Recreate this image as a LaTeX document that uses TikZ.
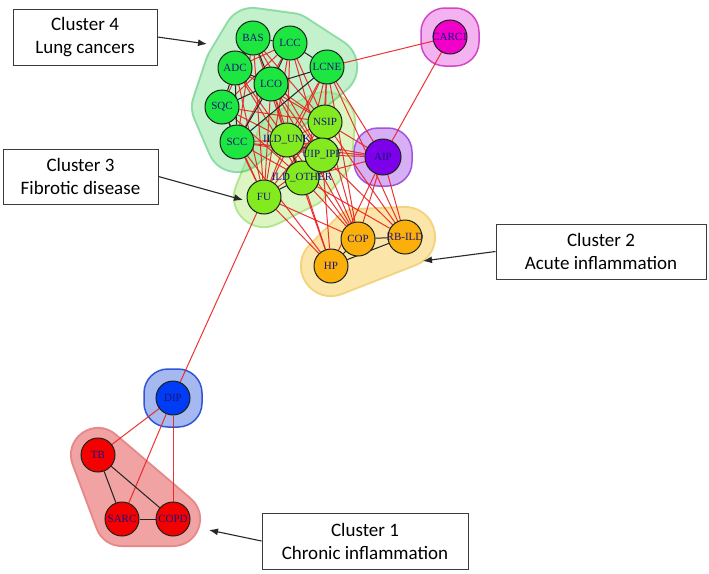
\documentclass[tikz,border=0pt]{standalone}
\usepackage{fontspec}
\setmainfont{Carlito}
\newfontfamily\labfont{Liberation Serif}
\usetikzlibrary{arrows.meta}
\pgfdeclarelayer{paper}
\pgfdeclarelayer{hulls}
\pgfdeclarelayer{edges}
\pgfsetlayers{paper,hulls,edges,main}
\definecolor{cNodeEdge}{RGB}{25,35,25}
\definecolor{cLab}{RGB}{25,20,125}
\definecolor{cRed}{RGB}{235,30,30}
\definecolor{cDark}{RGB}{35,35,35}
\definecolor{cBox}{RGB}{60,60,60}
\definecolor{cArrow}{RGB}{40,40,40}
% node fills
\definecolor{nG4}{RGB}{30,230,65}
\definecolor{nG3}{RGB}{130,234,30}
\definecolor{nOr}{RGB}{250,175,10}
\definecolor{nPu}{RGB}{125,0,235}
\definecolor{nMa}{RGB}{240,0,200}
\definecolor{nBl}{RGB}{0,60,245}
\definecolor{nRe}{RGB}{245,0,0}
% hull colours (before group opacity 0.5)
\definecolor{h4b}{RGB}{30,185,80}
\definecolor{h4f}{RGB}{135,229,155}
\definecolor{h3b}{RGB}{105,205,35}
\definecolor{h3f}{RGB}{189,237,135}
\definecolor{h2b}{RGB}{230,170,0}
\definecolor{h2f}{RGB}{249,205,85}
\definecolor{h1b}{RGB}{205,20,20}
\definecolor{h1f}{RGB}{229,70,70}
% single hulls (opaque)
\definecolor{sPuB}{RGB}{160,85,225}
\definecolor{sPuF}{RGB}{215,175,245}
\definecolor{sMaB}{RGB}{210,70,200}
\definecolor{sMaF}{RGB}{245,178,240}
\definecolor{sBlB}{RGB}{50,85,215}
\definecolor{sBlF}{RGB}{165,185,240}
\newcommand\mkhull[5]{%
  \begin{scope}[transparency group, opacity=0.5]
    \path[draw=#1, fill=#1, line width=#3, line join=round] #5;
    \path[draw=#2, fill=#2, line width=#4, line join=round] #5;
  \end{scope}}
\tikzset{
  vtx/.style={circle, draw=cNodeEdge, line width=1pt, minimum size=34pt, inner sep=0pt,
    font=\labfont\fontsize{11}{12}\selectfont, text=cLab},
  redline/.style={draw=cRed, line width=1pt, draw opacity=0.9},
  darkline/.style={draw=cDark, line width=1pt},
  lbox/.style={draw=cBox, line width=1pt, fill=white, align=center,
    font=\fontsize{19}{23}\selectfont, inner sep=0pt},
  arr/.style={-{Latex[length=9pt,width=7pt]}, line width=1.1pt, draw=cArrow},
  single/.style={rounded corners=24pt, minimum size=58pt, inner sep=0pt, line width=1.5pt},
}
\begin{document}
\begin{tikzpicture}[x=1pt,y=-1pt]
\begin{pgfonlayer}{paper}
\fill[white] (0,0) rectangle (709,573);
\end{pgfonlayer}
\useasboundingbox (0,0) rectangle (709,573);
% ---------- vertices ----------
\node[vtx, fill=nG4] (BAS)  at (253,38)  {\makebox[0pt]{BAS}};
\node[vtx, fill=nG4] (LCC)  at (290,43)  {\makebox[0pt]{LCC}};
\node[vtx, fill=nG4] (LCNE) at (327,67)  {\makebox[0pt]{LCNE}};
\node[vtx, fill=nG4] (ADC)  at (235,68)  {\makebox[0pt]{ADC}};
\node[vtx, fill=nG4] (LCO)  at (271,84)  {\makebox[0pt]{LCO}};
\node[vtx, fill=nG4] (SQC)  at (222,107) {\makebox[0pt]{SQC}};
\node[vtx, fill=nG4] (SCC)  at (237,142) {\makebox[0pt]{SCC}};
\node[vtx, fill=nG3] (NSIP) at (325,122) {\makebox[0pt]{NSIP}};
\node[vtx, fill=nG3] (UNK)  at (287,140) {\makebox[0pt]{ILD\_UNK}};
\node[vtx, fill=nG3] (OTH)  at (302,178) {\makebox[0pt]{ILD\_OTHER}};
\node[vtx, fill=nG3] (UIP)  at (322,155) {\makebox[0pt]{UIP\_IPF}};
\node[vtx, fill=nG3] (FU)   at (264,197) {\makebox[0pt]{FU}};
\node[vtx, fill=nPu, minimum size=36pt] (AIP) at (383,157) {\makebox[0pt]{AIP}};
\node[vtx, fill=nMa] (CARC) at (450,37)  {\makebox[0pt]{CARC1}};
\node[vtx, fill=nOr] (COP)  at (358,239) {\makebox[0pt]{COP}};
\node[vtx, fill=nOr] (RB)   at (405,237) {\makebox[0pt]{RB-ILD}};
\node[vtx, fill=nOr] (HP)   at (331,266) {\makebox[0pt]{HP}};
\node[vtx, fill=nBl] (DIP)  at (173,398) {\makebox[0pt]{DIP}};
\node[vtx, fill=nRe] (TB)   at (98,455)  {\makebox[0pt]{TB}};
\node[vtx, fill=nRe] (SARC) at (122,519) {\makebox[0pt]{SARC}};
\node[vtx, fill=nRe] (COPD) at (173,519) {\makebox[0pt]{COPD}};
% ---------- hulls ----------
\begin{pgfonlayer}{hulls}
\mkhull{h3b}{h3f}{62pt}{58pt}{(FU.center)--(OTH.center)--(UIP.center)--(NSIP.center)--(UNK.center)--cycle}
\mkhull{h4b}{h4f}{62pt}{58pt}{(BAS.center)--(LCC.center)--(LCNE.center)--(SCC.center)--(SQC.center)--(ADC.center)--cycle}
\mkhull{h2b}{h2f}{62pt}{58pt}{(COP.center)--(RB.center)--(HP.center)--cycle}
\mkhull{h1b}{h1f}{56pt}{52pt}{(TB.center)--(COPD.center)--(SARC.center)--cycle}
\node[single, draw=sPuB, fill=sPuF] (hAIP) at (AIP) {};
\node[single, draw=sMaB, fill=sMaF] (hCARC) at (CARC) {};
\node[single, draw=sBlB, fill=sBlF] (hDIP) at (DIP) {};
\end{pgfonlayer}
% ---------- edges ----------
\begin{pgfonlayer}{edges}
\foreach \a/\b in {
  LCNE/CARC, CARC/AIP, FU/DIP, DIP/TB, DIP/SARC, DIP/COPD,
  LCNE/AIP, NSIP/AIP, UIP/AIP, UNK/AIP, OTH/AIP, SCC/AIP,
  AIP/COP, AIP/RB, AIP/HP,
  FU/HP, FU/COP, OTH/HP, OTH/COP, OTH/RB, UIP/HP, UIP/COP, UIP/RB,
  NSIP/COP, NSIP/RB, UNK/HP, UNK/COP, LCO/COP, LCNE/RB, SCC/HP, LCNE/COP,
  BAS/FU, BAS/UNK, BAS/NSIP, LCC/UNK, LCC/NSIP, LCC/FU, ADC/UNK, ADC/FU,
  ADC/NSIP, LCO/UNK, LCO/NSIP, LCO/UIP, LCO/FU, LCO/OTH, SQC/FU, SQC/UNK,
  SQC/NSIP, SCC/FU, SCC/OTH, SCC/UIP, SCC/UNK, LCNE/UNK, LCNE/UIP, LCNE/FU,
  LCNE/OTH, LCNE/NSIP, SQC/OTH, ADC/OTH, BAS/UIP, LCC/UIP,
  BAS/SQC, BAS/SCC, LCC/ADC, LCC/SQC, LCC/SCC,
  FU/UNK, FU/NSIP, FU/UIP, NSIP/UNK, NSIP/OTH}
  \draw[redline] (\a) -- (\b);
\foreach \a/\b in {
  BAS/LCC, BAS/ADC, BAS/LCO, LCC/LCO, LCC/LCNE, ADC/LCO, ADC/SQC,
  LCO/LCNE, LCO/SQC, SQC/SCC, LCNE/SCC, ADC/SCC, LCO/SCC,
  NSIP/UIP, UNK/UIP, OTH/FU, OTH/UNK, UIP/OTH,
  COP/RB, COP/HP, HP/RB,
  TB/SARC, TB/COPD, SARC/COPD}
  \draw[darkline] (\a) -- (\b);
\end{pgfonlayer}
% ---------- cluster labels ----------
\node[lbox, minimum width=144pt, minimum height=56pt] (box4) at (85,37) {Cluster 4\\Lung cancers};
\node[lbox, minimum width=155pt, minimum height=55pt] (box3) at (80.5,176.5) {Cluster 3\\Fibrotic disease};
\node[lbox, minimum width=210pt, minimum height=55pt] (box2) at (601,251.5) {Cluster 2\\Acute inflammation};
\node[lbox, minimum width=206pt, minimum height=56pt] (box1) at (365,541) {Cluster 1\\Chronic inflammation};
\coordinate (t4) at (207,44);
\coordinate (t3) at (243,200);
\coordinate (t2) at (423,261);
\coordinate (t1) at (209,530);
\draw[arr] (box4.east) -- (t4);
\draw[arr] (box3.east) -- (t3);
\draw[arr] (box2.west) -- (t2);
\draw[arr] (box1.west) -- (t1);
\end{tikzpicture}
\end{document}
